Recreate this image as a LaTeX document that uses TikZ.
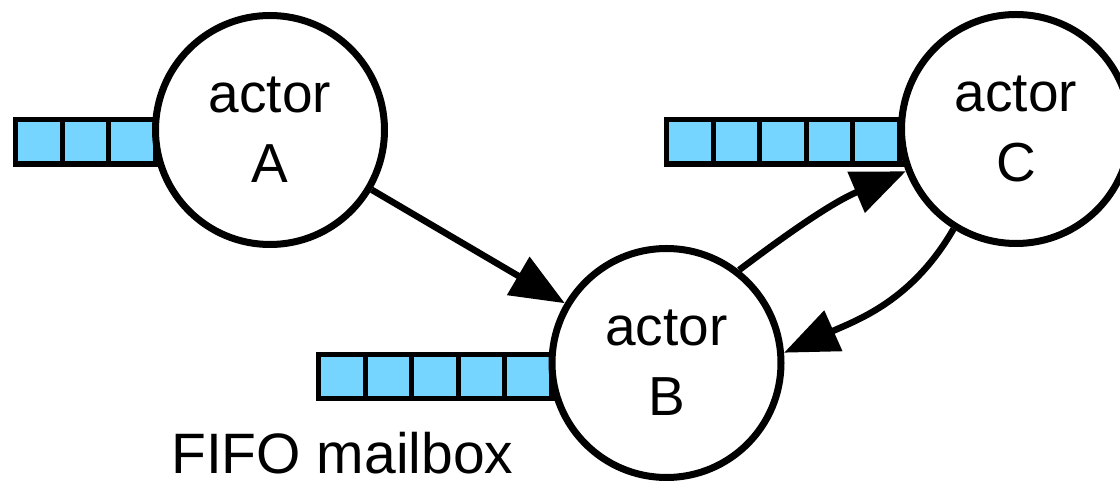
\documentclass[tikz,border=0pt]{standalone}
\usepackage{fontspec}
\setmainfont{Liberation Sans}
\usetikzlibrary{arrows.meta}
\definecolor{mailblue}{RGB}{117,213,255}
\tikzset{
  actor/.style={circle, draw=black, fill=white, line width=7pt, minimum size=229pt, inner sep=0pt, align=center, font=\fontsize{55}{70}\selectfont},
  mbox/.style={draw=black, fill=mailblue, line width=5.5pt},
  mdiv/.style={draw=black, line width=5pt},
  msg/.style={draw=black, line width=6.5pt, -{Triangle[length=54pt,width=43pt]}},
  lbl/.style={inner sep=0pt, anchor=base west, font=\fontsize{57}{68}\selectfont}
}
\begin{document}
\begin{tikzpicture}[x=1pt,y=1pt]
\useasboundingbox (0,0) rectangle (1120,481);
% mailboxes (drawn under the actors)
\path[mbox] (15.5,317) rectangle (200,361.5);
\foreach \x in {62,108.5,155} \draw[mdiv] (\x,317) -- (\x,361.5);
\path[mbox] (666.5,317) rectangle (950,361.5);
\foreach \x in {713,759.5,806,852.5,899} \draw[mdiv] (\x,317) -- (\x,361.5);
\path[mbox] (318.5,82.5) rectangle (600,126.5);
\foreach \x in {365,411.5,458,504.5,551} \draw[mdiv] (\x,82.5) -- (\x,126.5);
% actors
\node[actor] (A) at (270,351) {actor\\A};
\node[actor] (B) at (666.5,118) {actor\\B};
\node[actor] (C) at (1016,352) {actor\\C};
% label
\node[lbl] (fifo) at (171,7) {FIFO mailbox};
% messages
\draw[msg] (A) -- (B);
\draw[msg] (B.52) to[out=37,in=203] (C.201);
\draw[msg] (C.238) to[out=240,in=24] (B.5);
\end{tikzpicture}
\end{document}
